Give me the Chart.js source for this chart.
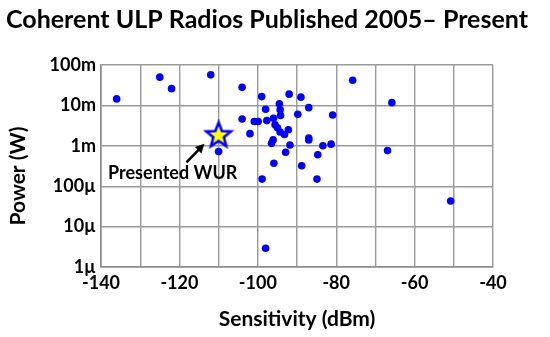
<!DOCTYPE html>
<html>
<head>
<meta charset="utf-8">
<script src="https://cdn.jsdelivr.net/npm/chart.js@4"></script>
<style>
  body { margin: 0; background: #fff; }
  #wrap { width: 550px; height: 337px; }
</style>
</head>
<body>
<div id="wrap"><canvas id="radioChart"></canvas></div>
<script>
// sensitivity (dBm) and power (W) of published radios
var sensitivity = [-136, -125, -122, -112, -104, -99, -92, -89, -94.5, -98, -87, -94.3, -94.2,
    -89.8, -104, -100.9, -99.9, -97.7, -96, -95.6, -95, -92.2, -94.3, -93.2, -102, -87, -87,
    -96.5, -96.1, -91.8, -83.4, -81.3, -92.9, -84.7, -95.9, -88.8, -98.9, -84.9, -75.8, -65.8,
    -80.9, -66.9, -50.8, -98, -110];
var power = [14.5e-3, 50e-3, 26e-3, 57e-3, 28e-3, 16.5e-3, 19e-3, 16e-3, 11e-3, 8e-3, 8.8e-3, 7.8e-3, 5.6e-3,
    6e-3, 4.6e-3, 4e-3, 4e-3, 4.2e-3, 4.8e-3, 3.3e-3, 2.8e-3, 2.5e-3, 2.2e-3, 1.9e-3, 2.0e-3, 1.55e-3, 1.4e-3,
    1.15e-3, 1.4e-3, 1.05e-3, 1.0e-3, 1.1e-3, 0.69e-3, 0.6e-3, 0.37e-3, 0.32e-3, 0.15e-3, 0.15e-3, 42e-3, 11.7e-3,
    5.8e-3, 0.76e-3, 43e-6, 2.9e-6, 0.72e-3];

// this work
var wurSensitivity = [-110];
var wurPower = [1.8e-3];

var yTickValues = [1e-6, 1e-5, 1e-4, 1e-3, 1e-2, 1e-1];
var yTickLabels = ['1\u00b5', '10\u00b5', '100\u00b5', '1m', '10m', '100m'];
var xTickLabels = {'-140': '-140', '-120': '-120', '-100': '-100', '-80': '-80', '-60': '-60', '-40': '-40'};

var FONT = 'Lato, "Open Sans", sans-serif';

function makeStar() {
    var c = document.createElement('canvas');
    c.width = 32; c.height = 32;
    var g = c.getContext('2d');
    var cx = 16, cy = 16, R = 13, r = 5.6;
    g.beginPath();
    for (var i = 0; i < 10; i++) {
        var rad = i % 2 === 0 ? R : r;
        var a = -Math.PI / 2 + i * Math.PI / 5;
        var px = cx + rad * Math.cos(a), py = cy + rad * Math.sin(a);
        if (i === 0) g.moveTo(px, py); else g.lineTo(px, py);
    }
    g.closePath();
    g.fillStyle = '#ffff00';
    g.fill();
    g.lineWidth = 2.6;
    g.strokeStyle = '#0000ff';
    g.stroke();
    return c;
}

function toPoints(xs, ys) {
    var pts = [];
    for (var i = 0; i < xs.length; i++) pts.push({x: xs[i], y: ys[i]});
    return pts;
}

var extras = {
    id: 'extras',
    afterDraw: function (chart) {
        var ctx = chart.ctx;
        var xs = chart.scales.x, ys = chart.scales.y;
        ctx.save();
        // title (drawn here so it can run past the plot's right edge)
        ctx.fillStyle = '#000';
        ctx.font = 'bold 25px ' + FONT;
        ctx.textAlign = 'left';
        ctx.textBaseline = 'middle';
        ctx.fillText('Coherent ULP Radios Published 2005\u2013 Present', 6, 20);
        // arrow to the star
        var x0 = xs.getPixelForValue(-118.2), y0 = ys.getPixelForValue(3.9e-4);
        var x1 = xs.getPixelForValue(-113.6), y1 = ys.getPixelForValue(1.12e-3);
        var ang = Math.atan2(y1 - y0, x1 - x0);
        ctx.strokeStyle = '#000';
        ctx.lineWidth = 2.5;
        ctx.beginPath();
        ctx.moveTo(x0, y0);
        ctx.lineTo(x1 - 6 * Math.cos(ang), y1 - 6 * Math.sin(ang));
        ctx.stroke();
        ctx.beginPath();
        ctx.moveTo(x1, y1);
        ctx.lineTo(x1 - 9 * Math.cos(ang) + 4.5 * Math.sin(ang), y1 - 9 * Math.sin(ang) - 4.5 * Math.cos(ang));
        ctx.lineTo(x1 - 9 * Math.cos(ang) - 4.5 * Math.sin(ang), y1 - 9 * Math.sin(ang) + 4.5 * Math.cos(ang));
        ctx.closePath();
        ctx.fill();
        // label
        ctx.font = 'bold 18px ' + FONT;
        ctx.fillText('Presented WUR', xs.getPixelForValue(-138.2), ys.getPixelForValue(2.1e-4));
        // y axis title
        ctx.translate(18, 176);
        ctx.rotate(-Math.PI / 2);
        ctx.textAlign = 'center';
        ctx.font = 'bold 21px ' + FONT;
        ctx.fillText('Power (W)', 0, 0);
        ctx.restore();
    }
};

var ctx = document.getElementById('radioChart');
var radioChart = new Chart(ctx, {
    type: 'scatter',
    data: {
        datasets: [{
            label: 'Published',
            data: toPoints(sensitivity, power),
            backgroundColor: '#0000ff',
            borderColor: '#0000ff',
            pointRadius: 3.8,
            borderWidth: 0
        }, {
            label: 'Presented WUR',
            data: toPoints(wurSensitivity, wurPower),
            pointStyle: makeStar(),
            pointRadius: 13
        }]
    },
    options: {
        responsive: true,
        maintainAspectRatio: false,
        animation: false,
        layout: { padding: { left: 6, right: 57, top: 65 } },
        plugins: {
            legend: { display: false },
            tooltip: { enabled: false },
            title: { display: false }
        },
        scales: {
            x: {
                type: 'linear',
                min: -140,
                max: -40,
                afterFit: function (scale) { scale.height = 70; },
                ticks: {
                    stepSize: 10,
                    padding: 5,
                    color: '#000',
                    font: { family: FONT, size: 18, weight: 'bold' },
                    autoSkip: false,
                    maxRotation: 0,
                    callback: function (v) { return xTickLabels[String(v)] || ''; }
                },
                grid: { color: '#9a9a9a', lineWidth: 1.4, drawTicks: false },
                border: { color: '#8a8a8a', width: 1.6 },
                title: {
                    display: true,
                    text: 'Sensitivity (dBm)',
                    color: '#000',
                    font: { family: FONT, size: 21, weight: 'bold' },
                    padding: { top: 0, bottom: 5 }
                }
            },
            y: {
                type: 'logarithmic',
                min: 1e-6,
                max: 1e-1,
                afterFit: function (scale) { scale.width = 95; },
                afterBuildTicks: function (scale) {
                    scale.ticks = yTickValues.map(function (v) { return {value: v, major: true}; });
                },
                ticks: {
                    padding: 5,
                    color: '#000',
                    font: { family: FONT, size: 18, weight: 'bold' },
                    callback: function (v) {
                        var i = yTickValues.findIndex(function (t) { return Math.abs(t - v) / t < 1e-6; });
                        return i >= 0 ? yTickLabels[i] : '';
                    }
                },
                grid: { color: '#9a9a9a', lineWidth: 1.4, drawTicks: false },
                border: { color: '#8a8a8a', width: 1.6 }
            }
        }
    },
    plugins: [extras]
});
</script>
</body>
</html>
